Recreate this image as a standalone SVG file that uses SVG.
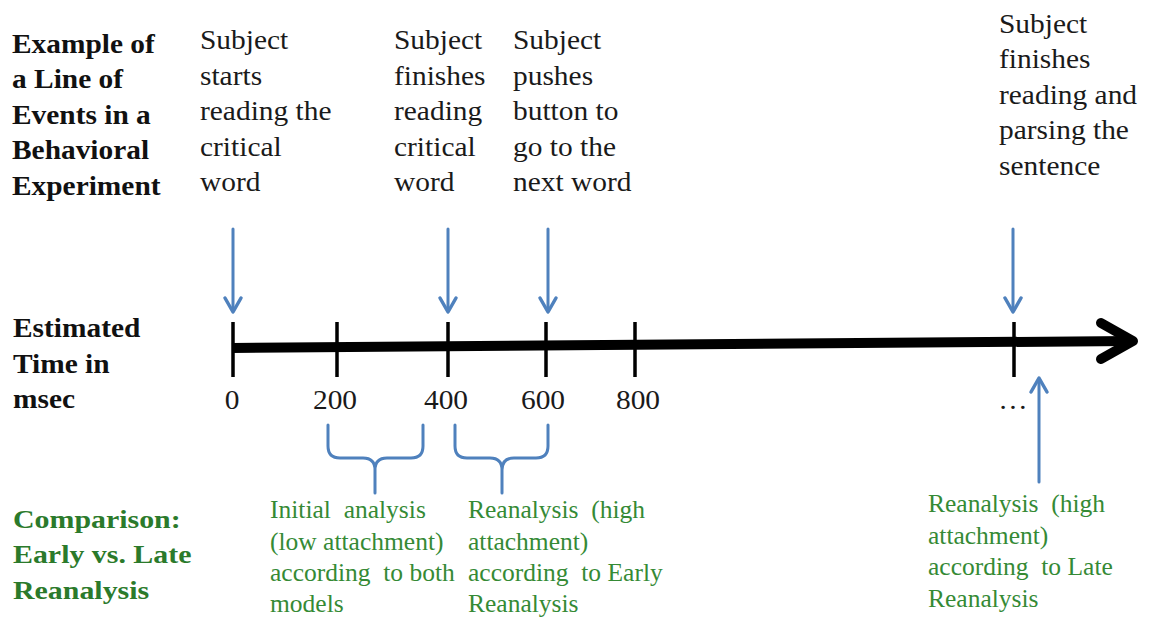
<svg xmlns="http://www.w3.org/2000/svg" width="1150" height="617" viewBox="0 0 1150 617">
<style>
text{font-family:'Liberation Serif',Tinos,'Times New Roman','DejaVu Serif',serif}
.bk{font-weight:bold;font-size:28px;fill:#111}
.rg{font-size:27px;fill:#1a1a1a}
.gb{font-weight:bold;font-size:26px;fill:#2b7a2b}
.gr{font-size:25.5px;fill:#358a35;white-space:pre}
.tick{stroke:#000;stroke-width:3.5;fill:none}
.blue{stroke:#4f81bd;stroke-width:3;fill:none;stroke-linecap:round;stroke-linejoin:round}
.head{stroke:#4f81bd;stroke-width:3.5;fill:none;stroke-linecap:round;stroke-linejoin:round}
.mid{text-anchor:middle}
</style>
<rect width="1150" height="617" fill="#fff"/>

<g id="title-events">
<text class="bk" transform="translate(12 0) scale(1.05 1)"><tspan x="0" y="53">Example of</tspan><tspan x="0" y="88.5">a Line of</tspan><tspan x="0" y="124">Events in a</tspan><tspan x="0" y="159.5">Behavioral</tspan><tspan x="0" y="195">Experiment</tspan></text>
</g>
<g id="title-time">
<text class="bk" transform="translate(13 0) scale(1.05 1)"><tspan x="0" y="337">Estimated</tspan><tspan x="0" y="373">Time in</tspan><tspan x="0" y="408.5">msec</tspan></text>
</g>
<g id="title-comparison">
<text class="gb" transform="translate(13 0) scale(1.15 1)"><tspan x="0" y="528">Comparison:</tspan><tspan x="0" y="563">Early vs. Late</tspan><tspan x="0" y="599">Reanalysis</tspan></text>
</g>

<g id="event-start">
<text class="rg" transform="translate(200 0) scale(1.09 1)"><tspan x="0" y="49.5">Subject</tspan><tspan x="0" y="85">starts</tspan><tspan x="0" y="120.5">reading the</tspan><tspan x="0" y="156">critical</tspan><tspan x="0" y="191.5">word</tspan></text>
</g>
<g id="event-finish-word">
<text class="rg" transform="translate(394 0) scale(1.09 1)"><tspan x="0" y="49.5">Subject</tspan><tspan x="0" y="85">finishes</tspan><tspan x="0" y="120.5">reading</tspan><tspan x="0" y="156">critical</tspan><tspan x="0" y="191.5">word</tspan></text>
</g>
<g id="event-button">
<text class="rg" transform="translate(513 0) scale(1.09 1)"><tspan x="0" y="49.5">Subject</tspan><tspan x="0" y="85">pushes</tspan><tspan x="0" y="120.5">button to</tspan><tspan x="0" y="156">go to the</tspan><tspan x="0" y="191.5">next word</tspan></text>
</g>
<g id="event-sentence">
<text class="rg" transform="translate(999 0) scale(1.09 1)"><tspan x="0" y="33">Subject</tspan><tspan x="0" y="68.5">finishes</tspan><tspan x="0" y="104">reading and</tspan><tspan x="0" y="139.5">parsing the</tspan><tspan x="0" y="175">sentence</tspan></text>
</g>

<g id="timeline">
<path d="M232,348 L1130,341" stroke="#000" stroke-width="10" fill="none"/>
<path d="M1101,323 L1133,341 L1101,359" stroke="#000" stroke-width="10" fill="none" stroke-linecap="round" stroke-linejoin="round"/>
<path class="tick" d="M233,322V377M337,322V377M448,322V377M546,322V377M635,322V377M1014,322V377"/>
<text class="rg mid" transform="translate(232 0) scale(1.09 1)" x="0" y="409">0</text>
<text class="rg mid" transform="translate(335 0) scale(1.09 1)" x="0" y="409">200</text>
<text class="rg mid" transform="translate(446 0) scale(1.09 1)" x="0" y="409">400</text>
<text class="rg mid" transform="translate(543 0) scale(1.09 1)" x="0" y="409">600</text>
<text class="rg mid" transform="translate(638 0) scale(1.09 1)" x="0" y="409">800</text>
<text class="rg mid" transform="translate(1013 0) scale(1.09 1)" x="0" y="409">…</text>
</g>

<g id="brace-initial">
<path class="blue" d="M328,425V446Q328,458 340,458H363Q375,458 375,470V493M375,470Q375,458 387,458H411Q423,458 423,446V425"/>
</g>
<g id="brace-early">
<path class="blue" d="M455,425V446Q455,458 467,458H490Q502,458 502,470V493M502,470Q502,458 514,458H536Q548,458 548,446V425"/>
</g>

<g id="note-initial">
<text class="gr" xml:space="preserve"><tspan x="270" y="518">Initial  analysis</tspan><tspan x="270" y="549.5">(low attachment)</tspan><tspan x="270" y="581">according  to both</tspan><tspan x="270" y="612">models</tspan></text>
</g>
<g id="note-early">
<text class="gr" xml:space="preserve"><tspan x="468" y="518">Reanalysis  (high</tspan><tspan x="468" y="549.5">attachment)</tspan><tspan x="468" y="581">according  to Early</tspan><tspan x="468" y="612">Reanalysis</tspan></text>
</g>
<g id="note-late">
<text class="gr" xml:space="preserve"><tspan x="928" y="512">Reanalysis  (high</tspan><tspan x="928" y="543.5">attachment)</tspan><tspan x="928" y="575">according  to Late</tspan><tspan x="928" y="607">Reanalysis</tspan></text>
</g>

<g id="connectors">
<path class="blue" d="M233,229V310"/><path class="head" d="M225,298L233,312L241,298"/>
<path class="blue" d="M448,229V310"/><path class="head" d="M440,298L448,312L456,298"/>
<path class="blue" d="M548,229V310"/><path class="head" d="M540,298L548,312L556,298"/>
<path class="blue" d="M1013,229V310"/><path class="head" d="M1005,298L1013,312L1021,298"/>
<path class="blue" d="M1039,482V380"/><path class="head" d="M1031,392L1039,378L1047,392"/>
</g>
</svg>
